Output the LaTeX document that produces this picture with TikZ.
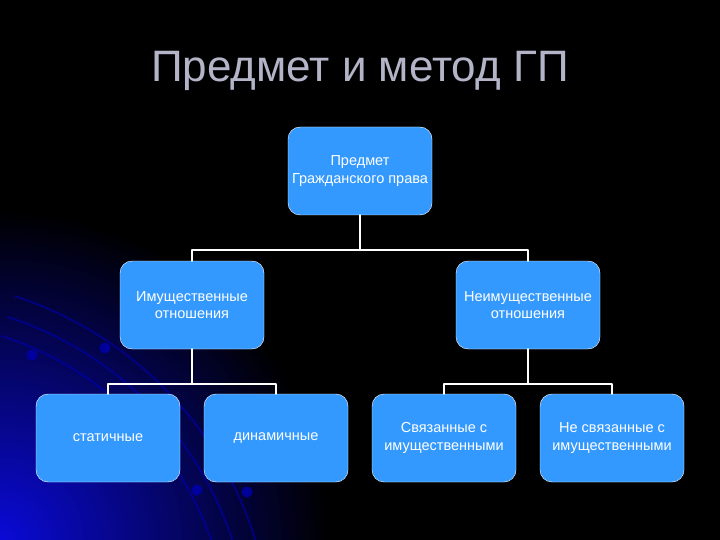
\documentclass[tikz,border=0pt]{standalone}
\usepackage{fontspec}
\setmainfont{Liberation Sans}
\definecolor{boxblue}{RGB}{51,153,255}
\definecolor{titlegray}{RGB}{180,180,200}
\definecolor{glowblue}{RGB}{10,10,215}
\begin{document}
\begin{tikzpicture}[x=1pt,y=-1pt, line join=round, line cap=round,
    box/.style={draw=white, fill=boxblue, rounded corners=12pt, minimum width=144pt,
      minimum height=88pt, inner sep=0pt, align=center, text=white,
      font=\fontsize{14.5}{17.5}\selectfont},
    link/.style={white, line width=2pt},
    arcline/.style={blue!75!black, line width=2pt, opacity=.5}]
  % nen
  \useasboundingbox[fill=black] (0,0) rectangle (720,540);
  \begin{scope}
    \clip (0,0) rectangle (720,540);
    \shade[inner color=glowblue, outer color=black] (0,540) circle (330);
    \foreach \r in {330,350,372}
      \draw[arcline] ([shift={(-72:\r)}]-100,650) arc (-72:-15:\r);
    \foreach \p in {(32,355),(105,348),(197,490),(247,492)}
      \fill[blue!70!black, opacity=.8] \p circle (5.5);
  \end{scope}
  \node[text=titlegray, font=\fontsize{44}{52}\selectfont] (title) at (360,71) {Предмет и метод ГП};
  % cac o
  \node[box] (top) at (360,171) {Предмет\\Гражданского права};
  \node[box] (l) at (192,305) {Имущественные\\отношения};
  \node[box] (r) at (528,305) {Неимущественные\\отношения};
  \node[box] (ll) at (108,438) {статичные};
  \node[box] (lr) at (276,438) {динамичные};
  \node[box] (rl) at (444,438) {Связанные с\\имущественными};
  \node[box] (rr) at (612,438) {Не связанные с\\имущественными};
  % duong noi
  \coordinate (j0) at (360,250);
  \coordinate (j1) at (192,384);
  \coordinate (j2) at (528,384);
  \draw[link] (top) -- (j0);
  \draw[link] (l) -- (j1);
  \draw[link] (r) -- (j2);
  \foreach \a/\b/\j in {l/r/j0, ll/lr/j1, rl/rr/j2}
    \draw[link] (\a.north) |- (\j) -| (\b.north);
\end{tikzpicture}
\end{document}
